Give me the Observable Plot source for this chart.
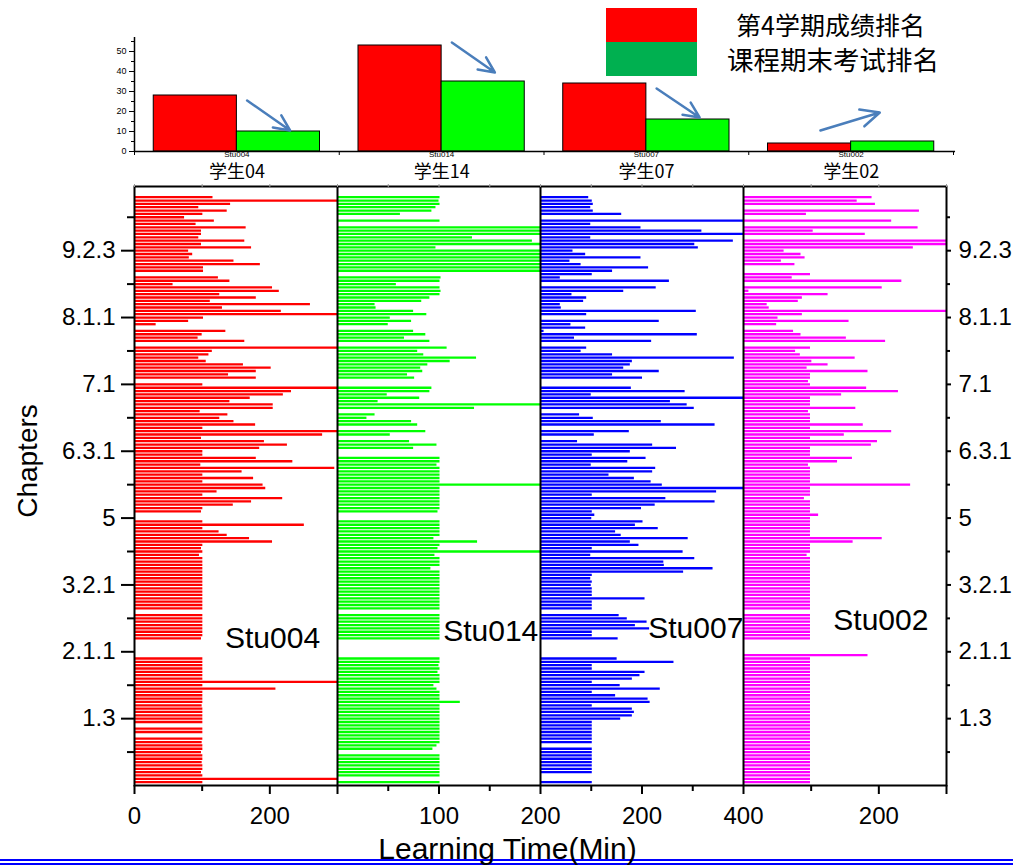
<!DOCTYPE html>
<html>
<head>
<meta charset="utf-8">
<script src="https://cdn.jsdelivr.net/npm/d3@7"></script>
<script src="https://cdn.jsdelivr.net/npm/@observablehq/plot@0.6"></script>
<style>
  body { margin: 0; background: #fff; }
  #chart { position: relative; width: 1013px; height: 866px; overflow: hidden; background: #fff;
           font-family: "Liberation Sans", Arial, sans-serif; }
  #rank { position: absolute; left: 0; top: 0; }
  #time { position: absolute; left: 0; top: 180px; }
  .key { position: absolute; left: 606px; width: 91px; height: 34px; }
  .key-text { position: absolute; font-family: "Noto Sans CJK SC", sans-serif; line-height: 30px; color: #000; white-space: nowrap; }
  .band { position: absolute; left: 0; width: 1013px; height: 2px; background: #0000ff; }
</style>
</head>
<body>
<div id="chart">
  <div class="band" style="top:859px"></div>
  <div class="band" style="top:863px"></div>
  <div id="rank"></div>
  <div id="time"></div>
  <div class="key" style="top:8px;background:#ff0000"></div>
  <div class="key" style="top:42px;background:#00b050"></div>
  <div class="key-text" id="key1" style="left:736px;top:9px;font-size:25px"></div>
  <div class="key-text" id="key2" style="left:727px;top:44px;font-size:26.5px"></div>
</div>
<script>
// ---- ranking summary (top panel) ----
const students = ["Stu004", "Stu014", "Stu007", "Stu002"];
const studentNames = ["学生04", "学生14", "学生07", "学生02"];
const seriesNames = ["第4学期成绩排名", "课程期末考试排名"];
const term4Rank = [28, 53, 34, 4];
const finalExamRank = [10, 35, 16, 5];
// trend arrows: start/end rank level for each student
const arrowFrom = [25.5, 54.5, 31.5, 10.5];
const arrowTo = [10.5, 39.5, 17, 19.5];

// ---- learning time per chapter, chapter index 1..176 from the bottom ----
const chapterTickIndex = [20, 40, 60, 80, 100, 120, 140, 160];
const chapterTickLabels = ["1.3", "2.1.1", "3.2.1", "5", "6.3.1", "7.1", "8.1.1", "9.2.3"];
const chapterMinorIndex = [10, 30, 50, 70, 90, 110, 130, 150, 170];

const timeStu004 = [
  101, 300, 101, 99, 101, 101, 100, 101, 101, 99,
  101, 101, 100, 101, 0, 101, 101, 0, 101, 101,
  101, 101, 101, 100, 101, 101, 101, 101, 209, 101,
  300, 101, 101, 101, 101, 101, 101, 101, 0, 0,
  0, 0, 0, 99, 101, 101, 101, 101, 101, 101,
  101, 0, 101, 101, 101, 101, 101, 101, 101, 101,
  101, 101, 101, 101, 101, 101, 101, 101, 96, 101,
  99, 101, 204, 170, 137, 125, 101, 251, 101, 0,
  0, 99, 101, 146, 173, 219, 101, 122, 194, 190,
  101, 176, 101, 159, 296, 98, 234, 180, 101, 101,
  185, 226, 192, 99, 278, 300, 101, 179, 147, 126,
  138, 97, 205, 205, 141, 171, 220, 232, 300, 101,
  0, 180, 139, 180, 202, 161, 106, 95, 110, 115,
  300, 0, 163, 94, 100, 135, 0, 32, 80, 102,
  300, 217, 130, 260, 112, 180, 126, 214, 204, 57,
  141, 124, 0, 102, 102, 186, 147, 81, 86, 80,
  173, 99, 163, 95, 99, 99, 165, 91, 118, 74,
  101, 137, 95, 142, 300, 116
];
const timeStu014 = [
  101, 0, 101, 101, 101, 101, 101, 101, 101, 0,
  94, 98, 101, 101, 101, 101, 101, 101, 101, 101,
  101, 101, 101, 101, 121, 101, 101, 101, 98, 95,
  101, 101, 101, 99, 101, 100, 101, 101, 0, 0,
  0, 0, 0, 101, 101, 101, 101, 101, 101, 101,
  101, 0, 101, 101, 101, 101, 101, 101, 101, 101,
  101, 101, 101, 101, 92, 101, 101, 101, 96, 200,
  99, 101, 138, 95, 101, 101, 101, 101, 101, 0,
  0, 99, 101, 101, 101, 101, 101, 101, 101, 200,
  101, 101, 101, 101, 101, 98, 101, 101, 0, 0,
  75, 98, 71, 0, 52, 87, 0, 79, 73, 29,
  37, 0, 135, 200, 40, 81, 49, 91, 93, 0,
  0, 76, 69, 84, 82, 89, 111, 137, 85, 79,
  108, 0, 91, 66, 87, 75, 0, 50, 73, 52,
  88, 75, 38, 37, 83, 91, 101, 102, 101, 58,
  101, 102, 0, 200, 200, 200, 200, 200, 200, 200,
  97, 200, 192, 133, 200, 200, 200, 0, 101, 0,
  62, 93, 97, 101, 100, 101
];
const timeStu007 = [
  102, 0, 0, 102, 102, 102, 102, 102, 102, 102,
  102, 0, 102, 102, 102, 102, 102, 102, 102, 158,
  181, 185, 181, 102, 216, 212, 148, 102, 236, 157,
  102, 181, 196, 206, 102, 102, 263, 151, 0, 0,
  0, 0, 0, 153, 102, 102, 215, 187, 210, 171,
  155, 0, 102, 102, 102, 206, 102, 102, 102, 100,
  102, 99, 102, 282, 340, 244, 243, 304, 99, 281,
  102, 194, 177, 291, 159, 148, 232, 187, 202, 101,
  107, 102, 199, 226, 344, 247, 102, 347, 400, 240,
  218, 185, 135, 221, 227, 100, 172, 208, 102, 177,
  268, 221, 73, 0, 106, 175, 0, 344, 238, 104,
  77, 0, 303, 289, 256, 400, 100, 285, 179, 0,
  0, 201, 142, 234, 164, 177, 181, 382, 142, 80,
  91, 0, 219, 67, 309, 7, 89, 60, 234, 0,
  91, 307, 41, 39, 85, 91, 62, 164, 228, 0,
  254, 39, 102, 142, 213, 80, 58, 198, 89, 64,
  311, 304, 380, 99, 400, 318, 198, 99, 400, 0,
  160, 104, 99, 104, 102, 95
];
const timeStu002 = [
  99, 99, 99, 99, 99, 99, 99, 99, 99, 99,
  99, 99, 99, 99, 99, 99, 99, 99, 99, 99,
  99, 99, 99, 99, 99, 99, 99, 99, 99, 99,
  99, 99, 99, 99, 99, 99, 99, 99, 184, 0,
  0, 0, 0, 99, 99, 99, 99, 99, 99, 99,
  99, 0, 99, 99, 99, 99, 99, 99, 99, 99,
  99, 99, 99, 99, 99, 99, 99, 99, 94, 99,
  99, 99, 162, 205, 99, 99, 99, 99, 99, 99,
  111, 99, 99, 99, 99, 90, 99, 99, 99, 247,
  99, 99, 99, 99, 99, 96, 139, 161, 99, 99,
  99, 189, 198, 99, 149, 219, 99, 177, 99, 99,
  99, 96, 166, 99, 99, 99, 145, 229, 182, 99,
  96, 99, 99, 184, 94, 125, 101, 165, 84, 77,
  99, 0, 210, 152, 85, 74, 0, 49, 156, 51,
  87, 300, 38, 35, 81, 87, 125, 8, 205, 0,
  234, 72, 99, 0, 0, 76, 56, 91, 85, 60,
  251, 300, 300, 0, 180, 103, 258, 0, 219, 0,
  93, 260, 0, 195, 168, 190
];

// per-panel x axis: full-scale minutes, labelled ticks and minor ticks
const panelMax = [300, 200, 400, 300];
const panelTicks = [[0, 200], [100, 200], [200, 400], [200]];
const panelMinorTicks = [[100], [50, 150], [100, 300], [100]];
const panelColors = ["#ff0000", "#00ff00", "#0000ff", "#ff00ff"];
const panelTimes = [timeStu004, timeStu014, timeStu007, timeStu002];
// name tag inside each panel: minutes and chapter index of its centre
const tagMinutes = [204, 151, 306, 203];
const tagChapter = [44, 46, 47, 49.4];

const font = '"Liberation Sans", Arial, sans-serif';
const cjk = '"Noto Sans CJK SC", sans-serif';

document.getElementById("key1").textContent = seriesNames[0];
document.getElementById("key2").textContent = seriesNames[1];

// ---------- ranking bars ----------
const barInset = 0.094;
const termRows = students.map((s, i) => ({x1: i + barInset, x2: i + 0.5, v: term4Rank[i]}));
const examRows = students.map((s, i) => ({x1: i + 0.5, x2: i + 1 - barInset, v: finalExamRank[i]}));
const arrowRows = students.map((s, i) => {
  const up = arrowTo[i] > arrowFrom[i];
  return {x1: i + (up ? 0.35 : 0.55), x2: i + (up ? 0.64 : 0.76), y1: arrowFrom[i], y2: arrowTo[i]};
});

const rankPlot = Plot.plot({
  width: 1013, height: 180,
  marginLeft: 134, marginRight: 60, marginTop: 37, marginBottom: 29,
  x: {domain: [0, 4], axis: null},
  y: {domain: [0, 57], axis: null},
  style: {fontFamily: font, background: "transparent", overflow: "visible"},
  marks: [
    Plot.rect(termRows, {x1: "x1", x2: "x2", y1: 0, y2: "v", fill: "#ff0000", stroke: "#000", strokeWidth: 1}),
    Plot.rect(examRows, {x1: "x1", x2: "x2", y1: 0, y2: "v", fill: "#00ff00", stroke: "#000", strokeWidth: 1}),
    Plot.ruleX([0], {y1: 0, y2: 57, strokeWidth: 1.5}),
    Plot.ruleY([0], {x1: 0, x2: 4.01, strokeWidth: 1.5}),
    Plot.axisY({ticks: [0, 10, 20, 30, 40, 50], tickSize: 5, tickPadding: 3, fontSize: 9, label: null}),
    Plot.axisY({ticks: [5, 15, 25, 35, 45, 55], tickSize: 3, tickFormat: () => "", label: null}),
    Plot.axisX({ticks: [0, 1, 2, 3, 4], tickSize: 4, tickFormat: () => "", label: null}),
    Plot.axisX({ticks: [0.5, 1.5, 2.5, 3.5], tickSize: 0, tickPadding: 0, fontSize: 8,
                tickFormat: d => students[Math.floor(d)], label: null}),
    Plot.text(studentNames, {x: (d, i) => i + 0.5, y: 0, text: d => d, dy: 21, fontSize: 18,
                fontFamily: cjk, fill: "#000"}),
    Plot.arrow(arrowRows, {x1: "x1", y1: "y1", x2: "x2", y2: "y2", stroke: "#4a7ebb",
                strokeWidth: 2.5, headLength: 15, headAngle: 50})
  ]
});
document.getElementById("rank").append(rankPlot);

// ---------- learning time panels ----------
const panelRows = panelTimes.map((vals, p) =>
  vals.map((v, j) => ({k: j + 1, v, x1: p, x2: p + Math.min(v, panelMax[p]) / panelMax[p]}))
      .filter(d => d.v > 0));

const majorTicks = [];
panelTicks.forEach((arr, p) => arr.forEach(v => majorTicks.push({pos: p + v / panelMax[p], text: String(v)})));
[1, 4].forEach(pos => majorTicks.push({pos, text: ""}));
const minorTicks = [];
panelMinorTicks.forEach((arr, p) => arr.forEach(v => minorTicks.push(p + v / panelMax[p])));
const tickText = new Map(majorTicks.map(d => [Math.round(d.pos * 1000), d.text]));
const chapterText = new Map(chapterTickIndex.map((k, i) => [k, chapterTickLabels[i]]));

const tags = students.map((s, p) => ({name: s, x: p + tagMinutes[p] / panelMax[p], y: tagChapter[p]}));

const timePlot = Plot.plot({
  width: 1013, height: 686,
  marginLeft: 134, marginRight: 67, marginTop: 6, marginBottom: 81,
  x: {domain: [0, 4], axis: null},
  y: {domain: [0, 179.2], axis: null},
  style: {fontFamily: font, background: "transparent", overflow: "visible"},
  marks: [
    ...panelRows.map((rows, p) =>
      Plot.ruleY(rows, {y: "k", x1: "x1", x2: "x2", stroke: panelColors[p], strokeWidth: 2.3})),
    Plot.ruleX([1, 2, 3], {stroke: "#000", strokeWidth: 2}),
    Plot.frame({stroke: "#000", strokeWidth: 2}),
    Plot.axisY({anchor: "left", ticks: chapterTickIndex, tickSize: 13, tickPadding: 6, fontSize: 24,
                strokeWidth: 2, tickFormat: d => chapterText.get(d), label: null}),
    Plot.axisY({anchor: "left", ticks: chapterMinorIndex, tickSize: 7, strokeWidth: 2,
                tickFormat: () => "", label: null}),
    Plot.axisY({anchor: "right", ticks: chapterTickIndex, tickSize: 4, tickPadding: 8, fontSize: 24,
                strokeWidth: 2, tickFormat: d => chapterText.get(d), label: null}),
    Plot.axisY({anchor: "right", ticks: chapterMinorIndex, tickSize: 3, strokeWidth: 2,
                tickFormat: () => "", label: null}),
    Plot.axisX({anchor: "bottom", ticks: majorTicks.map(d => d.pos), tickSize: 9, tickPadding: 12,
                fontSize: 24, strokeWidth: 2, tickFormat: d => tickText.get(Math.round(d * 1000)), label: null}),
    Plot.axisX({anchor: "bottom", ticks: minorTicks, tickSize: 6, strokeWidth: 2,
                tickFormat: () => "", label: null}),
    Plot.axisX({anchor: "top", ticks: [...majorTicks.map(d => d.pos), ...minorTicks], tickSize: 3,
                stroke: "#999", tickFormat: () => "", label: null}),
    Plot.text(tags, {x: "x", y: "y", text: "name", fontSize: 30, fill: "#000"}),
    Plot.text(["Learning Time(Min)"], {frameAnchor: "bottom", dx: -33, dy: 73, fontSize: 30, fill: "#000"}),
    Plot.text(["Chapters"], {frameAnchor: "left", textAnchor: "middle", dx: -106, dy: -25, rotate: -90,
                fontSize: 28, fill: "#000"})
  ]
});
document.getElementById("time").append(timePlot);
</script>
</body>
</html>
